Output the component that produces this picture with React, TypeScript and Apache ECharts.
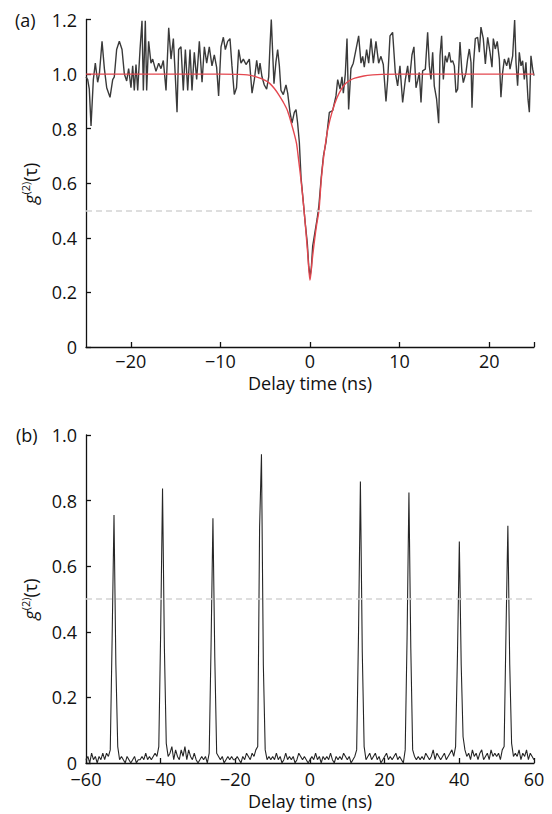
import React, { useEffect, useRef } from "react";
import * as echarts from "echarts";

// ---- Panel (a): measured g2 (noisy trace) ----
const topTimes = [
  -25.0, -24.81, -24.63, -24.44, -24.18, -23.96, -23.7, -23.51, -23.21, -22.95,
  -22.69, -22.32, -22.02, -21.84, -21.58, -21.28, -20.98, -20.72, -20.46, -20.24,
  -19.98, -19.79, -19.61, -19.42, -19.23, -18.97, -18.75, -18.6, -18.38, -18.23,
  -18.01, -17.75, -17.56, -17.19, -16.89, -16.63, -16.37, -16.07, -15.77, -15.51,
  -15.25, -15.03, -14.84, -14.66, -14.4, -14.14, -13.91, -13.65, -13.39, -13.17,
  -12.91, -12.65, -12.35, -12.05, -11.79, -11.53, -11.24, -10.94, -10.68, -10.42,
  -10.2, -9.93, -9.67, -9.45, -9.19, -8.93, -8.71, -8.45, -8.2, -7.96,
  -7.7, -7.44, -7.14, -6.77, -6.47, -6.21, -5.95, -5.73, -5.58, -5.36,
  -5.1, -4.84, -4.61, -4.47, -4.32, -4.17, -4.02, -3.8, -3.61, -3.42,
  -3.24, -2.98, -2.68, -2.49, -2.23, -2.01, -1.75, -1.56, -1.38, -1.19,
  -1.0, -0.8, -0.55, -0.3, -0.15, 0.0, 0.15, 0.3, 0.55, 0.8,
  1.0, 1.25, 1.5, 1.78, 2.16, 2.53, 2.9, 3.09, 3.35, 3.57,
  3.72, 3.94, 4.13, 4.31, 4.57, 4.83, 5.13, 5.43, 5.69, 5.88,
  6.06, 6.32, 6.55, 6.81, 7.07, 7.36, 7.66, 7.92, 8.18, 8.48,
  8.67, 8.93, 9.22, 9.52, 9.78, 10.04, 10.34, 10.64, 10.9, 11.08,
  11.38, 11.6, 11.83, 12.01, 12.2, 12.39, 12.57, 12.87, 13.13, 13.32,
  13.5, 13.69, 13.87, 14.13, 14.36, 14.51, 14.69, 14.88, 15.1, 15.29,
  15.55, 15.73, 15.92, 16.11, 16.29, 16.48, 16.74, 16.96, 17.11, 17.41,
  17.59, 17.78, 17.97, 18.08, 18.26, 18.45, 18.71, 18.9, 19.08, 19.34,
  19.57, 19.83, 20.09, 20.31, 20.46, 20.68, 20.9, 21.13, 21.31, 21.5,
  21.69, 21.95, 22.17, 22.32, 22.62, 22.84, 22.99, 23.17, 23.36, 23.55,
  23.73, 23.92, 24.1, 24.33, 24.48, 24.66, 24.85, 25.0,
];
const topValues = [
  0.99, 0.98, 0.945, 0.81, 0.98, 1.04, 0.97, 1.0, 1.12, 1.02,
  0.95, 0.915, 0.98, 0.99, 1.09, 1.12, 1.09, 1.0, 0.975, 1.02,
  0.95, 1.03, 0.94, 1.035, 0.94, 1.09, 1.195, 0.94, 1.195, 0.94,
  1.12, 1.04, 1.055, 1.01, 1.04, 1.02, 1.05, 0.94, 1.17, 1.055,
  1.13, 0.99, 0.86, 1.09, 1.1, 0.94, 1.09, 0.94, 1.09, 0.94,
  1.08, 0.98, 1.12, 0.97, 1.1, 1.04, 1.1, 1.03, 1.07, 1.025,
  0.92, 1.1, 1.135, 1.09, 1.12, 1.13, 1.03, 0.925, 0.95, 1.09,
  1.04, 1.055, 1.035, 1.055, 0.93, 0.98, 1.05, 1.0, 1.04, 0.99,
  0.96, 0.945, 0.99, 1.1, 1.2, 1.08, 0.965, 1.045, 1.09, 1.03,
  0.94, 0.925, 0.96, 0.93, 0.86, 0.82, 0.86, 0.87, 0.82, 0.75,
  0.62, 0.55, 0.46, 0.38, 0.3, 0.26, 0.29, 0.37, 0.42, 0.47,
  0.52, 0.62, 0.7, 0.75, 0.86, 0.866, 0.92, 0.98, 0.945, 0.99,
  0.93, 1.0, 1.13, 0.87, 1.02, 1.04, 1.09, 1.14, 1.04, 1.065,
  1.025, 1.09, 1.04, 1.13, 1.04, 1.12, 1.04, 1.065, 1.035, 0.9,
  0.98, 1.14, 1.153, 1.006, 0.957, 1.03, 0.896, 0.98, 1.03, 0.97,
  1.07, 1.1, 0.95, 0.975, 1.006, 0.896, 1.012, 1.018, 1.153, 1.03,
  0.98, 1.08, 0.957, 0.908, 0.82, 1.067, 1.14, 0.98, 1.067, 1.043,
  1.08, 1.043, 1.049, 1.03, 0.933, 0.945, 1.117, 1.006, 0.969, 1.006,
  1.055, 1.092, 1.043, 0.877, 1.043, 1.13, 1.135, 1.08, 1.172, 1.13,
  1.037, 1.135, 1.08, 1.025, 1.13, 1.092, 1.12, 1.055, 0.915, 1.006,
  1.055, 1.03, 1.06, 1.018, 1.067, 1.198, 1.043, 0.957, 1.08, 1.03,
  1.049, 0.98, 1.043, 0.908, 0.86, 1.067, 1.018, 0.994,
];

// ---- Panel (a): fitted curve ----
const fitTimes = [
  -25, -10, -8, -7, -6, -5, -4.5, -4, -3.5, -3, -2.5, -2, -1.75, -1.5, -1.25,
  -1, -0.75, -0.5, -0.25, 0, 0.25, 0.5, 0.75, 1, 1.25, 1.5, 1.75, 2, 2.5, 3,
  3.5, 4, 4.5, 5, 6, 7, 8, 10, 25,
];
const fitValues = [
  1.0, 1.0, 0.999, 0.997, 0.99, 0.977, 0.966, 0.948, 0.925, 0.898, 0.865, 0.81, 0.78, 0.745, 0.68,
  0.61, 0.53, 0.44, 0.34, 0.245, 0.32, 0.39, 0.45, 0.5, 0.61, 0.69, 0.75, 0.8, 0.865, 0.912,
  0.945, 0.966, 0.978, 0.985, 0.993, 0.997, 0.999, 1.0, 1.0,
];

// ---- Panel (b): measured g2, 0.5 ns bins from -60 to 60 ns ----
const bottomStart = -60;
const bottomStep = 0.5;
const bottomValues = [
  0.01, 0.02, 0.0, 0.03, 0.01, 0.02, 0.0, 0.02, 0.01, 0.03, // -60 .. -55.5
  0.01, 0.03, 0.02, 0.04, 0.38, 0.756, 0.3, 0.05, 0.01, 0.02, // -55 .. -50.5
  0.01, 0.0, 0.02, 0.01, 0.0, 0.01, 0.02, 0.0, 0.01, 0.01, // -50 .. -45.5
  0.02, 0.01, 0.03, 0.01, 0.02, 0.01, 0.02, 0.03, 0.02, 0.05, // -45 .. -40.5
  0.4, 0.837, 0.35, 0.06, 0.02, 0.03, 0.05, 0.01, 0.04, 0.02, // -40 .. -35.5
  0.01, 0.04, 0.02, 0.05, 0.01, 0.04, 0.02, 0.01, 0.03, 0.01, // -35 .. -30.5
  0.0, 0.01, 0.02, 0.01, 0.02, 0.0, 0.03, 0.36, 0.746, 0.32, // -30 .. -25.5
  0.03, 0.02, 0.01, 0.02, 0.0, 0.01, 0.02, 0.01, 0.02, 0.01, // -25 .. -20.5
  0.01, 0.02, 0.01, 0.0, 0.02, 0.01, 0.03, 0.02, 0.01, 0.03, // -20 .. -15.5
  0.02, 0.04, 0.05, 0.72, 0.941, 0.3, 0.04, 0.01, 0.02, 0.01, // -15 .. -10.5
  0.02, 0.01, 0.03, 0.01, 0.02, 0.0, 0.01, 0.03, 0.01, 0.02, // -10 .. -5.5
  0.01, 0.02, 0.0, 0.01, 0.03, 0.02, 0.01, 0.02, 0.01, 0.0, // -5 .. -0.5
  0.01, 0.02, 0.01, 0.03, 0.01, 0.02, 0.0, 0.02, 0.01, 0.02, // 0 .. 4.5
  0.01, 0.03, 0.01, 0.0, 0.02, 0.01, 0.02, 0.01, 0.03, 0.02, // 5 .. 9.5
  0.01, 0.02, 0.0, 0.01, 0.02, 0.04, 0.4, 0.858, 0.34, 0.05, // 10 .. 14.5
  0.01, 0.02, 0.03, 0.01, 0.02, 0.03, 0.01, 0.02, 0.0, 0.01, // 15 .. 19.5
  0.02, 0.03, 0.01, 0.02, 0.01, 0.02, 0.03, 0.01, 0.02, 0.01, // 20 .. 24.5
  0.0, 0.04, 0.38, 0.825, 0.35, 0.04, 0.02, 0.01, 0.02, 0.01, // 25 .. 29.5
  0.02, 0.01, 0.03, 0.02, 0.01, 0.02, 0.04, 0.01, 0.03, 0.02, // 30 .. 34.5
  0.01, 0.02, 0.03, 0.01, 0.02, 0.03, 0.04, 0.02, 0.05, 0.33, // 35 .. 39.5
  0.675, 0.3, 0.08, 0.04, 0.02, 0.03, 0.01, 0.04, 0.02, 0.03, // 40 .. 44.5
  0.01, 0.03, 0.04, 0.01, 0.02, 0.03, 0.01, 0.04, 0.02, 0.03, // 45 .. 49.5
  0.02, 0.03, 0.01, 0.04, 0.05, 0.4, 0.723, 0.3, 0.06, 0.02, // 50 .. 54.5
  0.03, 0.02, 0.04, 0.01, 0.03, 0.02, 0.04, 0.01, 0.03, 0.02, 0.01, // 55 .. 60
];

// ---- Axes ----
const topXTicks = [-20, -10, 0, 10, 20, 25];
const topXLabels = [-20, -10, 0, 10, 20];
const halfLevel = 0.5;

const FONT = "'Open Sans', 'Noto Sans', sans-serif";

const fmtX = (v: number) => (v < 0 ? "\u2212" + Math.abs(v) : String(v));
const fmtY = (v: number) => (Math.abs(v) < 1e-9 ? "0" : v.toFixed(1));

export default function App() {
  const ref = useRef<HTMLDivElement>(null);
  useEffect(() => {
    if (!ref.current) return;
    const chart = echarts.init(ref.current, undefined, { renderer: "svg" });
    const axisLine = { show: true, onZero: false, lineStyle: { color: "#111", width: 1.3 } };
    const axisTick = { show: true, inside: true, length: 5, lineStyle: { color: "#111", width: 1.3 } };
    const labelStyle = { color: "#111", fontSize: 18, fontFamily: FONT, lineHeight: 14 };
    const yName = "{g|g}{s|(2)}{n|(τ)}";
    const yNameStyle = {
      color: "#111",
      fontFamily: FONT,
      rich: {
        g: { fontStyle: "italic", fontSize: 18, fontFamily: FONT, color: "#111", lineHeight: 20 },
        s: { fontSize: 11, fontFamily: FONT, color: "#111", verticalAlign: "top", lineHeight: 11 },
        n: { fontSize: 18, fontFamily: FONT, color: "#111", lineHeight: 20 },
      },
    };
    const xNameStyle = { color: "#111", fontSize: 18, fontFamily: FONT, lineHeight: 14 };
    const dashed = {
      silent: true,
      symbol: ["none", "none"],
      label: { show: false },
      lineStyle: { type: [6, 4], color: "#d4d4d4", width: 1.5 },
      data: [{ yAxis: halfLevel }],
    };

    chart.setOption({
      animation: false,
      backgroundColor: "#fff",
      grid: [
        { left: 86, top: 19.5, width: 448, height: 327.5 },
        { left: 86, top: 435, width: 448, height: 328 },
      ],
      xAxis: [
        {
          type: "value",
          gridIndex: 0,
          min: -25,
          max: 25,
          axisLine,
          axisTick: { ...axisTick, customValues: topXTicks },
          axisLabel: { ...labelStyle, margin: 7, customValues: topXLabels, formatter: fmtX },
          splitLine: { show: false },
          name: "Delay time (ns)",
          nameLocation: "middle",
          nameGap: 29,
          nameTextStyle: xNameStyle,
        },
        {
          type: "value",
          gridIndex: 1,
          min: -60,
          max: 60,
          interval: 20,
          axisLine,
          axisTick,
          axisLabel: { ...labelStyle, margin: 9, formatter: fmtX },
          splitLine: { show: false },
          name: "Delay time (ns)",
          nameLocation: "middle",
          nameGap: 31,
          nameTextStyle: xNameStyle,
        },
      ],
      yAxis: [
        {
          type: "value",
          gridIndex: 0,
          min: 0,
          max: 1.2,
          interval: 0.2,
          axisLine,
          axisTick,
          axisLabel: { ...labelStyle, margin: 9, formatter: fmtY },
          splitLine: { show: false },
          name: yName,
          nameLocation: "middle",
          nameRotate: 90,
          nameGap: 46,
          nameTextStyle: yNameStyle,
        },
        {
          type: "value",
          gridIndex: 1,
          min: 0,
          max: 1.0,
          interval: 0.2,
          axisLine,
          axisTick,
          axisLabel: { ...labelStyle, margin: 9, formatter: fmtY },
          splitLine: { show: false },
          name: yName,
          nameLocation: "middle",
          nameRotate: 90,
          nameGap: 46,
          nameTextStyle: yNameStyle,
        },
      ],
      graphic: [
        { type: "text", left: 15, top: 11, style: { text: "(a)", fill: "#111", font: `18px ${FONT}` } },
        { type: "text", left: 16, top: 426, style: { text: "(b)", fill: "#111", font: `18px ${FONT}` } },
      ],
      series: [
        {
          type: "line",
          xAxisIndex: 0,
          yAxisIndex: 0,
          showSymbol: false,
          data: topTimes.map((t, i) => [t, topValues[i]]),
          lineStyle: { color: "#3a3a3a", width: 1.4 },
          markLine: dashed,
          z: 2,
        },
        {
          type: "line",
          xAxisIndex: 0,
          yAxisIndex: 0,
          showSymbol: false,
          smooth: 0.3,
          data: fitTimes.map((t, i) => [t, fitValues[i]]),
          lineStyle: { color: "#e4474f", width: 1.4 },
          z: 3,
        },
        {
          type: "line",
          xAxisIndex: 1,
          yAxisIndex: 1,
          showSymbol: false,
          data: bottomValues.map((v, i) => [bottomStart + i * bottomStep, v]),
          lineStyle: { color: "#262626", width: 1.1 },
          markLine: dashed,
          z: 2,
        },
      ],
    });
    return () => chart.dispose();
  }, []);
  return (
    <div
      ref={ref}
      style={{ position: "absolute", left: 0, top: 0, width: 552, height: 814, background: "#fff" }}
    />
  );
}
